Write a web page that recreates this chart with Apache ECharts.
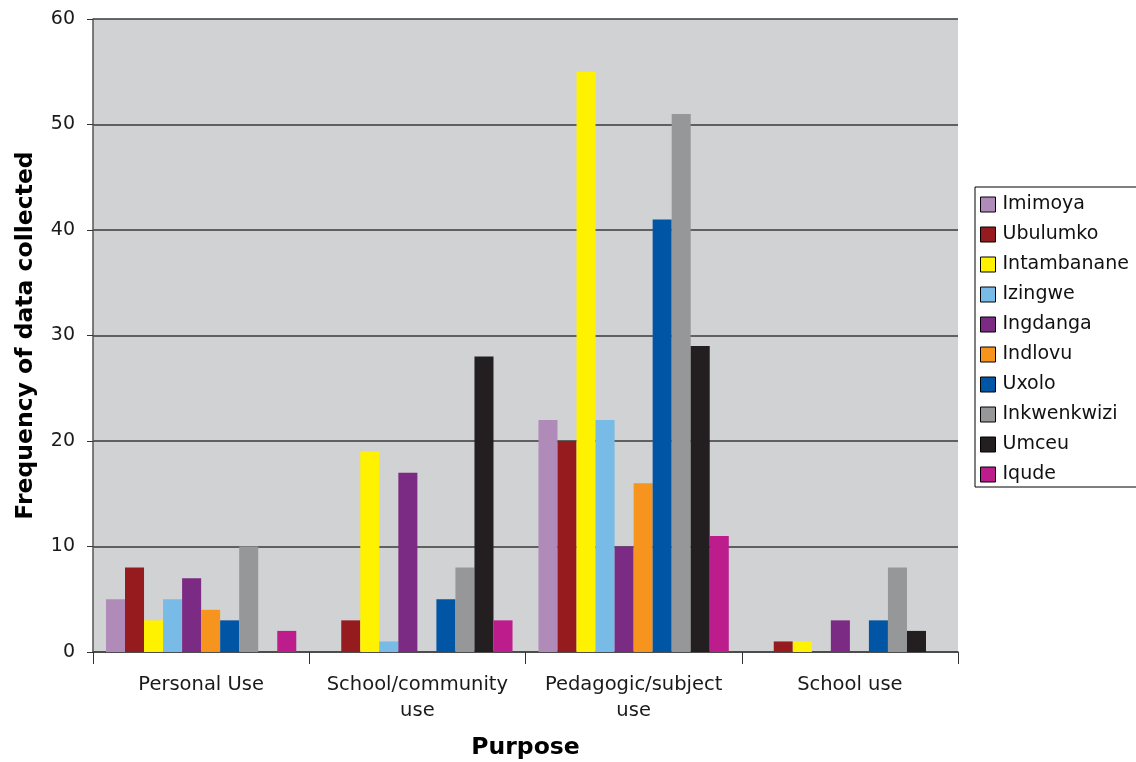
<!DOCTYPE html>
<html>
<head>
<meta charset="utf-8">
<script src="https://cdn.jsdelivr.net/npm/echarts@6/dist/echarts.min.js"></script>
<style>
  html, body { margin: 0; padding: 0; background: #fff; }
  #chart { width: 1136px; height: 762px; }
</style>
</head>
<body>
<div id="chart"></div>
<script>
// categories on the x axis
const purposes = ['Personal Use', 'School/community use', 'Pedagogic/subject use', 'School use']

// one array per group (series)
const imimoya = [5, 0, 22, 0]
const ubulumko = [8, 3, 20, 1]
const intambanane = [3, 19, 55, 1]
const izingwe = [5, 1, 22, 0]
const ingdanga = [7, 17, 10, 3]
const indlovu = [4, 0, 16, 0]
const uxolo = [3, 5, 41, 3]
const inkwenkwizi = [10, 8, 51, 8]
const umceu = [0, 28, 29, 2]
const iqude = [2, 3, 11, 0]

const yTicks = [0, 10, 20, 30, 40, 50, 60]

const groups = [
  ['Imimoya', imimoya, '#b08ab8'],
  ['Ubulumko', ubulumko, '#951b1f'],
  ['Intambanane', intambanane, '#fff200'],
  ['Izingwe', izingwe, '#78bbe6'],
  ['Ingdanga', ingdanga, '#7b2b83'],
  ['Indlovu', indlovu, '#f7941d'],
  ['Uxolo', uxolo, '#0055a5'],
  ['Inkwenkwizi', inkwenkwizi, '#969799'],
  ['Umceu', umceu, '#231f20'],
  ['Iqude', iqude, '#bc1c8c']
]

const font = 'DejaVu Sans, Verdana, sans-serif'
const myChart = echarts.init(document.getElementById('chart'))

// long category names go on two lines, like the original
function wrapLabel(s) {
  if (s.length < 16) return s
  const i = s.lastIndexOf(' ')
  return s.slice(0, i) + '\n' + s.slice(i + 1)
}

const option = {
  backgroundColor: '#fff',
  animation: false,
  textStyle: { fontFamily: font },
  grid: {
    left: 93, right: 178, top: 19, bottom: 110,
    outerBoundsMode: 'none',
    containLabel: false,
    show: true,
    backgroundColor: '#d1d2d4',
    borderWidth: 0
  },
  legend: {
    orient: 'vertical',
    left: 975,
    top: 187,
    itemWidth: 15,
    itemHeight: 15,
    itemGap: 11,
    padding: [8, 20, 3, 5],
    borderColor: '#000',
    borderWidth: 1,
    backgroundColor: '#fff',
    icon: 'rect',
    itemStyle: { borderColor: '#000', borderWidth: 1 },
    textStyle: { fontFamily: font, fontSize: 19, color: '#111', padding: [0, 0, 0, 2] },
    data: groups.map(g => g[0])
  },
  xAxis: {
    type: 'category',
    data: purposes,
    name: 'Purpose',
    nameLocation: 'middle',
    nameGap: 84,
    nameTextStyle: { fontFamily: font, fontSize: 23.5, fontWeight: 'bold', color: '#000' },
    axisLine: { lineStyle: { color: '#444', width: 1.5 } },
    axisTick: { show: true, length: 12, lineStyle: { color: '#333' } },
    axisLabel: {
      interval: 0,
      fontFamily: font, fontSize: 19.5, color: '#1a1a1a',
      margin: 20, lineHeight: 26,
      formatter: wrapLabel
    }
  },
  yAxis: {
    type: 'value',
    min: yTicks[0],
    max: yTicks[yTicks.length - 1],
    interval: 10,
    name: 'Frequency of data collected',
    nameLocation: 'middle',
    nameGap: 55,
    nameTextStyle: { fontFamily: font, fontSize: 23.5, fontWeight: 'bold', color: '#000' },
    axisLine: { show: true, lineStyle: { color: '#555', width: 1.5 } },
    axisTick: { show: true, length: 6, lineStyle: { color: '#333' } },
    axisLabel: { fontFamily: font, fontSize: 19, color: '#1a1a1a', margin: 18 },
    splitLine: { lineStyle: { color: '#3a3a3a', width: 1.5 } }
  },
  series: groups.map(g => ({
    name: g[0],
    type: 'bar',
    data: g[1],
    itemStyle: { color: g[2] },
    barGap: '0%',
    barCategoryGap: '12%'
  }))
}

myChart.setOption(option)
</script>
</body>
</html>
